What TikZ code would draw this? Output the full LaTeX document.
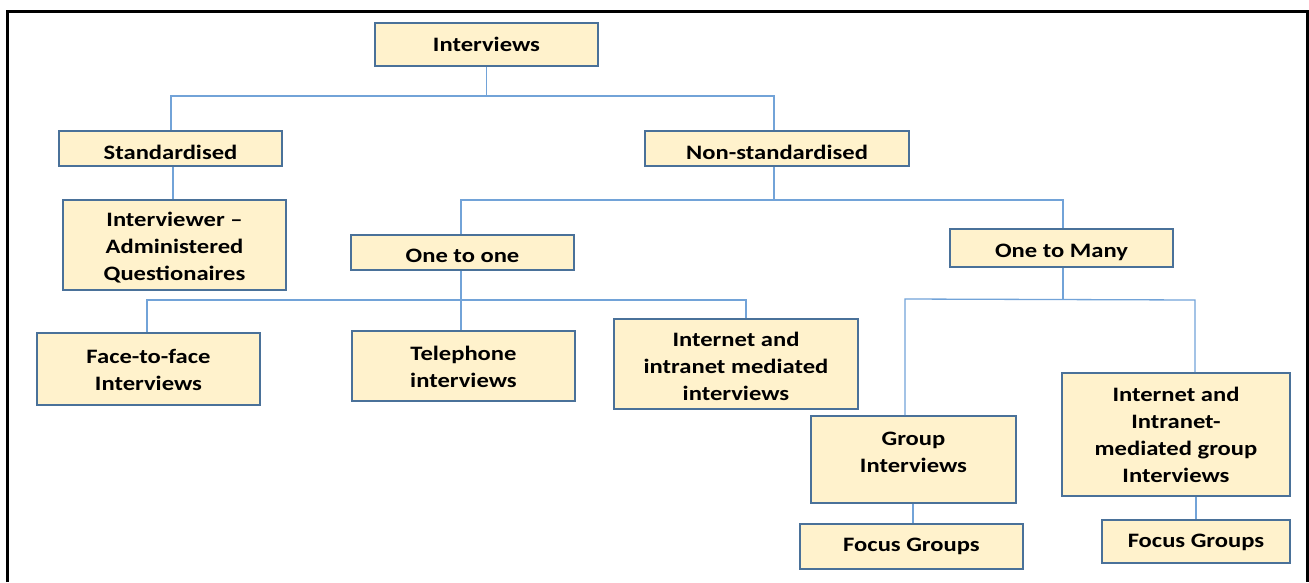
\documentclass[tikz,border=0pt]{standalone}
\usepackage{fontspec}
\setmainfont{Carlito}[FakeStretch=1.2]
\definecolor{boxfill}{HTML}{FFF2CC}
\definecolor{boxline}{HTML}{4A7199}
\definecolor{linkline}{HTML}{72A3D8}
\begin{document}
\begin{tikzpicture}[x=1pt,y=-1pt,
  box/.style={draw=boxline, line width=2pt, fill=boxfill, inner sep=0pt},
  txt/.style={inner sep=0pt, align=center, font=\fontsize{20.5}{27}\selectfont\bfseries},
  link/.style={draw=linkline, line width=1.3pt}]
\useasboundingbox (0,0) rectangle (1309,582);
% outer frame
\draw[line width=3pt] (7.5,582) -- (7.5,11) -- (1307,11) -- (1307,582);

% boxes
\node[box, minimum width=223, minimum height=43] (int) at (486.5,44.5) {};
\node[box, minimum width=223, minimum height=35] (std) at (170.5,148.5) {};
\node[box, minimum width=264, minimum height=35] (nst) at (777,148.5) {};
\node[box, minimum width=223, minimum height=90] (iam) at (174.5,245) {};
\node[box, minimum width=223, minimum height=35] (oto) at (462.5,252.5) {};
\node[box, minimum width=223, minimum height=38] (otm) at (1061.5,248) {};
\node[box, minimum width=223, minimum height=72] (ftf) at (148.5,369) {};
\node[box, minimum width=223, minimum height=70] (tel) at (463.5,366) {};
\node[box, minimum width=244, minimum height=90] (inm) at (736,364) {};
\node[box, minimum width=205, minimum height=87] (grp) at (913.5,459.5) {};
\node[box, minimum width=228, minimum height=123] (igi) at (1176,434.5) {};
\node[box, minimum width=223, minimum height=45] (fg1) at (911.5,546.5) {};
\node[box, minimum width=188, minimum height=43] (fg2) at (1196,541.5) {};

% labels (yshift is in page units: negative moves the text down)
\node[txt] (int-t) at (int.center) {Interviews};
\node[txt] (std-t) at ([yshift=-3.5pt]std.center) {Standardised};
\node[txt] (nst-t) at ([yshift=-4pt]nst.center) {Non-standardised};
\node[txt] (iam-t) at ([yshift=-2.5pt]iam.center) {Interviewer --\\Administered\\Questionaires};
\node[txt] (oto-t) at ([yshift=-3pt]oto.center) {One to one};
\node[txt] (otm-t) at ([yshift=-4pt]otm.center) {One to Many};
\node[txt] (ftf-t) at ([yshift=-0.5pt]ftf.center) {Face-to-face\\Interviews};
\node[txt] (tel-t) at ([yshift=-1pt]tel.center) {Telephone\\interviews};
\node[txt] (inm-t) at ([yshift=-2pt]inm.center) {Internet and\\intranet mediated\\interviews};
\node[txt] (grp-t) at ([yshift=7.5pt]grp.center) {Group\\Interviews};
\node[txt] (igi-t) at ([yshift=-0.5pt]igi.center) {Internet and\\Intranet-\\mediated group\\Interviews};
\node[txt] (fg1-t) at (fg1.center) {Focus Groups};
\node[txt] (fg2-t) at ([yshift=-1pt]fg2.center) {Focus Groups};

% connectors
\coordinate (b1l) at (171,96);
\coordinate (b1r) at (774,96);
\draw[link] (int.south) -- (int.south |- b1l);
\draw[link] (b1l |- std.north) -- (b1l) -- (b1r) -- (b1r |- nst.north);

\draw[link] ([xshift=2.5pt]std.south) -- ([xshift=2.5pt]std.south |- iam.north);

\coordinate (b2l) at (461,200);
\coordinate (b2r) at (1063,200);
\draw[link] ([xshift=-3pt]nst.south) -- ([xshift=-3pt]nst.south |- b2l);
\draw[link] (b2l |- oto.north) -- (b2l) -- (b2r) -- (b2r |- otm.north);

\coordinate (b3l) at (147,300);
\coordinate (b3m) at (461,300);
\coordinate (b3r) at (746,300);
\draw[link] (b3m |- oto.south) -- (b3m |- tel.north);
\draw[link] (b3l |- ftf.north) -- (b3l) -- (b3r) -- (b3r |- inm.north);

\coordinate (b4l) at (905,299);
\coordinate (b4r) at (1195,300);
\draw[link] ([xshift=1.5pt]otm.south) -- ([xshift=1.5pt]otm.south |- b4l);
\draw[link] (b4l |- grp.north) -- (b4l) -- (b4r) -- (b4r |- igi.north);

\draw[link] ([xshift=-0.5pt]grp.south) -- ([xshift=-0.5pt]grp.south |- fg1.north);
\draw[link] (fg2.north |- igi.south) -- (fg2.north);
\end{tikzpicture}
\end{document}
